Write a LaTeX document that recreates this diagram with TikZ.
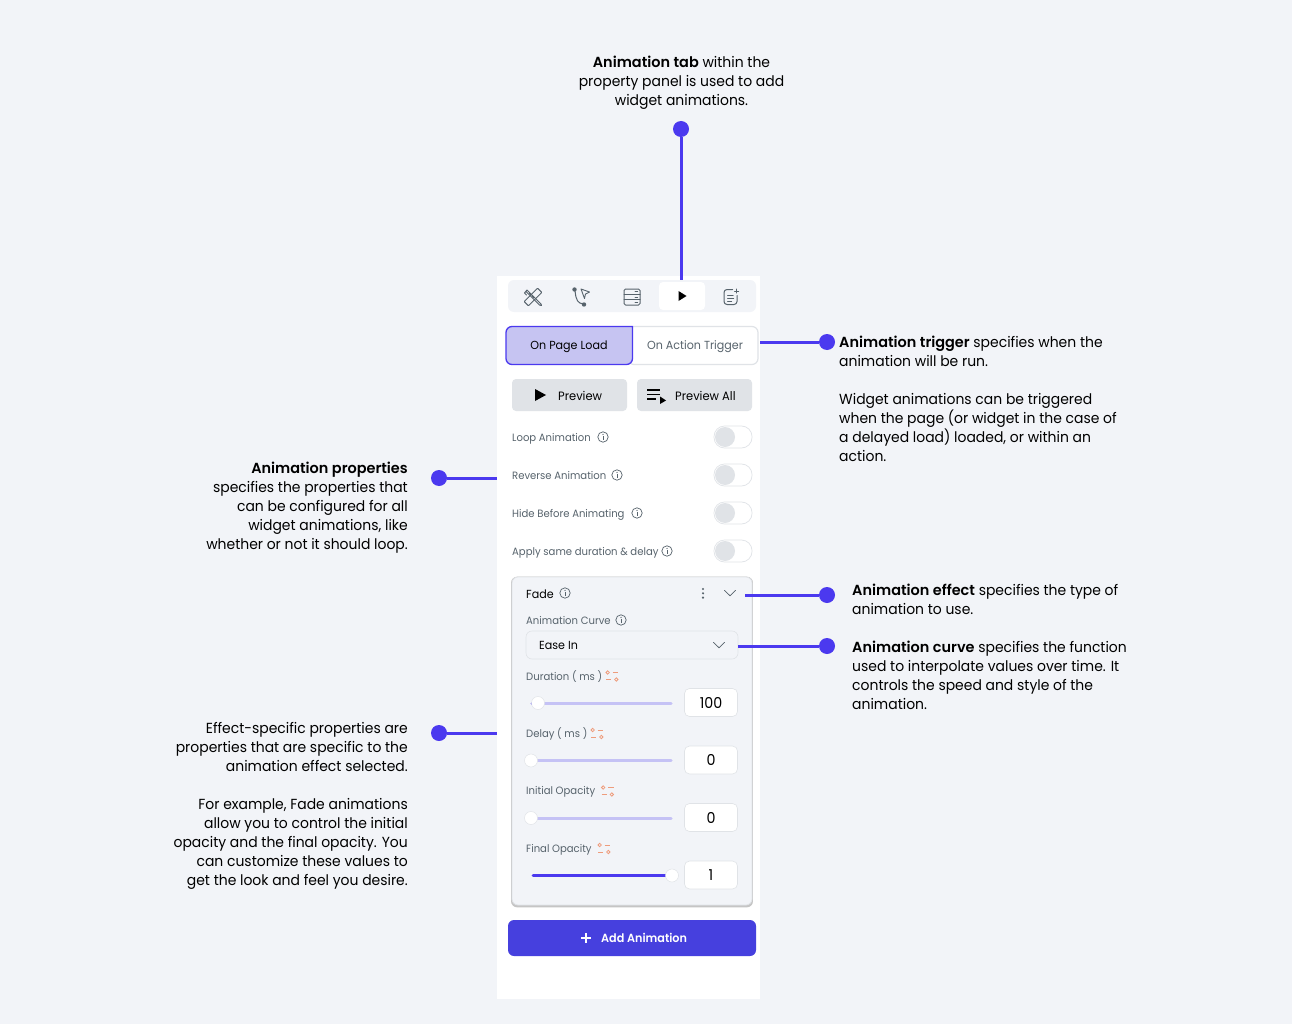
\documentclass[tikz,border=0pt]{standalone}
\usepackage{fontspec}
\setmainfont{Poppins}[UprightFeatures={FakeStretch=.955},BoldFont=*-SemiBold,BoldFeatures={FakeStretch=.99}]
\newfontfamily\uifont{Poppins}[FakeStretch=.95]
\newfontfamily\addfont{Poppins SemiBold}[FakeStretch=.95]
\usetikzlibrary{positioning,shadows}
\definecolor{pagebg}{HTML}{F2F4F8}
\definecolor{accent}{HTML}{4B39EF}
\definecolor{addblue}{HTML}{4640DE}
\definecolor{lineg}{HTML}{E0E3E7}
\definecolor{greytxt}{HTML}{57636C}
\definecolor{selfill}{HTML}{C6C4F2}
\definecolor{trackc}{HTML}{C5C2F5}
\definecolor{orangeic}{HTML}{EE9C7C}
\tikzset{%
  % callouts
  note/.style = {inner sep=0pt, font=\fontsize{14.6}{19}\selectfont, text=black},
  noteright/.style = {note, anchor=north west, align=left},
  noteleft/.style = {note, anchor=north east, align=right},
  dot/.style = {circle, fill=accent, minimum size=16pt, inner sep=0pt},
  pil/.style = {draw=accent, line width=3pt},
  % panel
  box/.style = {anchor=north west, inner sep=0pt, outer sep=0pt},
  label/.style = {inner sep=0pt, anchor=west, text=greytxt, font=\uifont\fontsize{10.6}{12}\selectfont},
  btn/.style = {box, fill=lineg, rounded corners=4pt},
  btntext/.style = {inner sep=0pt, text=black, font=\uifont\fontsize{11.7}{12}\selectfont},
  prevtext/.style = {btntext, anchor=west, font=\uifont\fontsize{12.1}{12}\selectfont},
  valbox/.style = {box, fill=white, draw=lineg, line width=.6pt, rounded corners=5pt,
                   minimum width=53pt, minimum height=28pt, text=black,
                   font=\uifont\fontsize{15}{15}\selectfont, align=center},
  track/.style = {line width=3pt, line cap=round, draw=trackc},
  knob/.style = {circle, fill=white, draw=lineg, line width=.5pt, minimum size=13pt, inner sep=0pt},
  icon/.style = {draw=greytxt, line width=1pt, line cap=round, line join=round},
  info/.pic = {\draw[greytxt, line width=.7pt] (0,0) circle (5.2pt);
    \fill[greytxt] (0,-2.6) circle (.65pt);
    \draw[greytxt, line width=.8pt] (0,-.8) -- (0,2.8);},
  tune/.pic = {\begin{scope}[orangeic, line width=.8pt]
    \draw (-4.3,-3.5) circle (1.7pt); \draw (.6,-3.5) -- (6,-3.5);
    \draw (-6,3.5) -- (-.6,3.5); \draw (4.3,3.5) circle (1.7pt);
    \end{scope}},
  tick/.pic = {\draw[greytxt, line width=.8pt, line cap=round, line join=round] (-5.5,-2.6) -- (0,2.8) -- (5.5,-2.6);},
  switch/.pic = {\draw[lineg, fill=white, line width=.7pt, rounded corners=10.5pt] (-19,-11) rectangle (19,11);
    \fill[lineg] (-8,0) circle (10pt);},
}
\begin{document}
\begin{tikzpicture}[x=1pt, y=-1pt, every node/.append style={text depth=0pt}]
\fill[pagebg] (0,0) rectangle (1292,1024);
\useasboundingbox (0,0) rectangle (1292,1024);

% panel
\node (panel) [box, fill=white, minimum width=263pt, minimum height=723pt] at (497,276) {};

% tab bar
\node (tabbar) [box, fill=pagebg, rounded corners=6pt, minimum width=248pt, minimum height=32pt] at (508,280) {};
\node (tabanim) [box, fill=white, rounded corners=4pt, minimum width=46pt, minimum height=28pt] at (659,282) {};
\fill[black] (678.5,291) -- (686.5,296) -- (678.5,301) -- cycle;
% tab icons
\begin{scope}[shift={(533,297)}]
  \draw[icon, rotate=45, rounded corners=.5pt] (-9.5,-3) rectangle (9.5,3);
  \draw[icon] (-3.5,-3.5) -- (-1.8,-1.8) (-.5,-.5) -- (.8,.8);
  \draw[icon] (-6.5,-2) -- (-8.5,-4) -- (-6,-7) -- (8,7) -- (8.5,8.5) -- (6.5,8) -- (-6.5,-5);
\end{scope}
\begin{scope}[shift={(582,297)}]
  \draw[icon] (-7,-6.5) .. controls (-6,4) and (-4,6) .. (1,7);
  \fill[greytxt] (-7.5,-7.5) circle (2.2pt) (2,7.5) circle (2.2pt);
  \draw[icon, line width=.9pt] (-1,-8) -- (7.5,-5) -- (3.5,-3) -- (2.5,1.5) -- cycle;
\end{scope}
\begin{scope}[shift={(632,297)}]
  \draw[icon, rounded corners=1.5pt] (-8,-8) rectangle (8,8);
  \draw[icon] (-8,-2.7) -- (8,-2.7) (-8,2.7) -- (8,2.7) (3,-5.3) -- (5.5,-5.3) (3,0) -- (5.5,0) (3,5.3) -- (5.5,5.3);
\end{scope}
\begin{scope}[shift={(731,297)}]
  \draw[icon, rounded corners=3pt] (1.5,-7.5) -- (-7,-7.5) -- (-7,7.5) -- (6,7.5) -- (6,-1.5);
  \draw[icon] (-3.5,-2) -- (2,-2) (-3.5,1.5) -- (2.5,1.5) (-3.5,4.5) -- (.5,4.5) (5.5,-8) -- (5.5,-4) (3.5,-6) -- (7.5,-6);
\end{scope}

% trigger switch
\node (segright) [box, fill=white, draw=lineg, line width=1.2pt, rounded corners=6pt, minimum width=130pt, minimum height=38pt] at (628,326.5) {};
\draw[accent, fill=selfill, line width=1.3pt, rounded corners=6pt] (632.5,326.5) -- (506,326.5) -- (506,364.5) -- (632.5,364.5) [sharp corners] -- cycle;
\node (segleft) [btntext] at (569,345.5) {On Page Load};
\node (segtext) [btntext, text=greytxt] at (695,345.5) {On Action Trigger};

% preview buttons
\node (previewbtn) [btn, minimum width=115pt, minimum height=32pt] at (512,379) {};
\node (allbtn) [btn, minimum width=115pt, minimum height=32pt] at (637,379) {};
\fill[black] (535,389) -- (546,395) -- (535,401) -- cycle;
\node (previewtxt) [prevtext] at (558,395.5) {Preview};
\draw[black, line width=1.3pt] (647,390) -- (660,390) (647,394.5) -- (660,394.5) (647,399) -- (656,399);
\fill[black] (660,396.5) -- (666,400.5) -- (660,404) -- cycle;
\node (alltxt) [prevtext] at (675,395.5) {Preview All};

% toggles
\foreach \name/\txt/\yy/\ix in {loop/Loop Animation/437/603, rev/Reverse Animation/475/617,
    hide/Hide Before Animating/513/637, same/Apply same duration \& delay/551/667} {
  \node (\name) [label] at (512,\yy) {\txt};
  \pic at (\ix,\yy) {info};
  \pic at (733,\yy) {switch};
}

% effect card
\node (card) [box, fill=pagebg, draw=lineg, line width=.8pt, rounded corners=6pt,
  drop shadow={shadow xshift=0pt, shadow yshift=-1pt, shadow scale=1.008, opacity=.45},
  minimum width=240pt, minimum height=328pt] at (512,577) {};
\node (fade) [btntext, anchor=west] at (526,594.3) {Fade};
\pic at (565,593) {info};
\fill[greytxt] (703,589) circle (1.2pt) (703,593.3) circle (1.2pt) (703,597.6) circle (1.2pt);
\pic at (730,593) {tick};
\node (curvelbl) [label] at (526,620) {Animation Curve};
\pic at (621,620) {info};
\node (curvebox) [box, fill=pagebg, draw=lineg, line width=.6pt, rounded corners=6pt, minimum width=212pt, minimum height=28pt] at (526,631) {};
\node (easein) [btntext, anchor=west] at (539,645.3) {Ease In};
\pic at (719,645) {tick};

% sliders
\foreach \name/\txt/\yy/\tx/\val in {dur/Duration ( ms )/703/612/100, del/Delay ( ms )/760.5/597/0,
    iop/Initial Opacity/818/607.5/0, fop/Final Opacity/875.5/604/1} {
  \node (\name lbl) [label] at (526,\yy-27.5) {\txt};
  \pic at (\tx,\yy-27) {tune};
  \node (\name val) [valbox] at (684.5,\yy-14.5) {\val};
}
\draw[track] (533,703) -- (671,703);
\draw[accent, line width=3pt, line cap=round] (532,703) -- (535,703);
\node (durknob) [knob] at (538,703) {};
\draw[track] (533,760.5) -- (671,760.5);
\node (delknob) [knob] at (531,760.5) {};
\draw[track] (533,818) -- (671,818);
\node (iopknob) [knob] at (531,818) {};
\draw[accent, line width=3pt, line cap=round] (533,875.5) -- (670,875.5);
\node (fopknob) [knob] at (672,875.5) {};

% add button
\node (addbtn) [box, fill=addblue, rounded corners=6pt, minimum width=248pt, minimum height=36pt] at (508,920) {};
\draw[white, line width=1.1pt] (581,938) -- (591,938) (586,933) -- (586,943);
\node (addtxt) [inner sep=0pt, anchor=west, text=white, font=\addfont\fontsize{11.8}{12}\selectfont] at (601,937.5) {Add Animation};

% callouts
\node (ntab) [note, anchor=north, align=center] at (681.5,56) {\textbf{Animation tab} within the\\property panel is used to add\\widget animations.};
\node (dtab) [dot] at (681,129) {};
\draw[pil] (dtab) -- (dtab |- tabbar.north);

\node (ntrigger) [noteright] at (839,336) {\textbf{Animation trigger} specifies when the\\animation will be run.\\[19pt]Widget animations can be triggered\\when the page (or widget in the case of\\a delayed load) loaded, or within an\\action.};
\node (dtrigger) [dot] at (827,342) {};
\draw[pil] (dtrigger) -- (dtrigger -| panel.east);

\node (nprops) [noteleft] at (408,462) {\textbf{Animation properties}\\specifies the properties that\\can be configured for all\\widget animations, like\\whether or not it should loop.};
\node (dprops) [dot] at (439,478) {};
\draw[pil] (dprops) -- (dprops -| panel.west);

\node (nspec) [noteleft] at (408,722) {Effect-specific properties are\\properties that are specific to the\\animation effect selected.\\[19pt]For example, Fade animations\\allow you to control the initial\\opacity and the final opacity. You\\can customize these values to\\get the look and feel you desire.};
\node (dspec) [dot] at (439,733) {};
\draw[pil] (dspec) -- (dspec -| panel.west);

\node (neffect) [noteright] at (852,584) {\textbf{Animation effect} specifies the type of\\animation to use.};
\node (deffect) [dot] at (827,595) {};
\coordinate (effectend) at (745,595);
\draw[pil] (deffect) -- (effectend);

\node (ncurve) [noteright] at (852,641) {\textbf{Animation curve} specifies the function\\used to interpolate values over time. It\\controls the speed and style of the\\animation.};
\node (dcurve) [dot] at (827,646) {};
\draw[pil] (dcurve) -- (dcurve -| curvebox.east);

\end{tikzpicture}
\end{document}
